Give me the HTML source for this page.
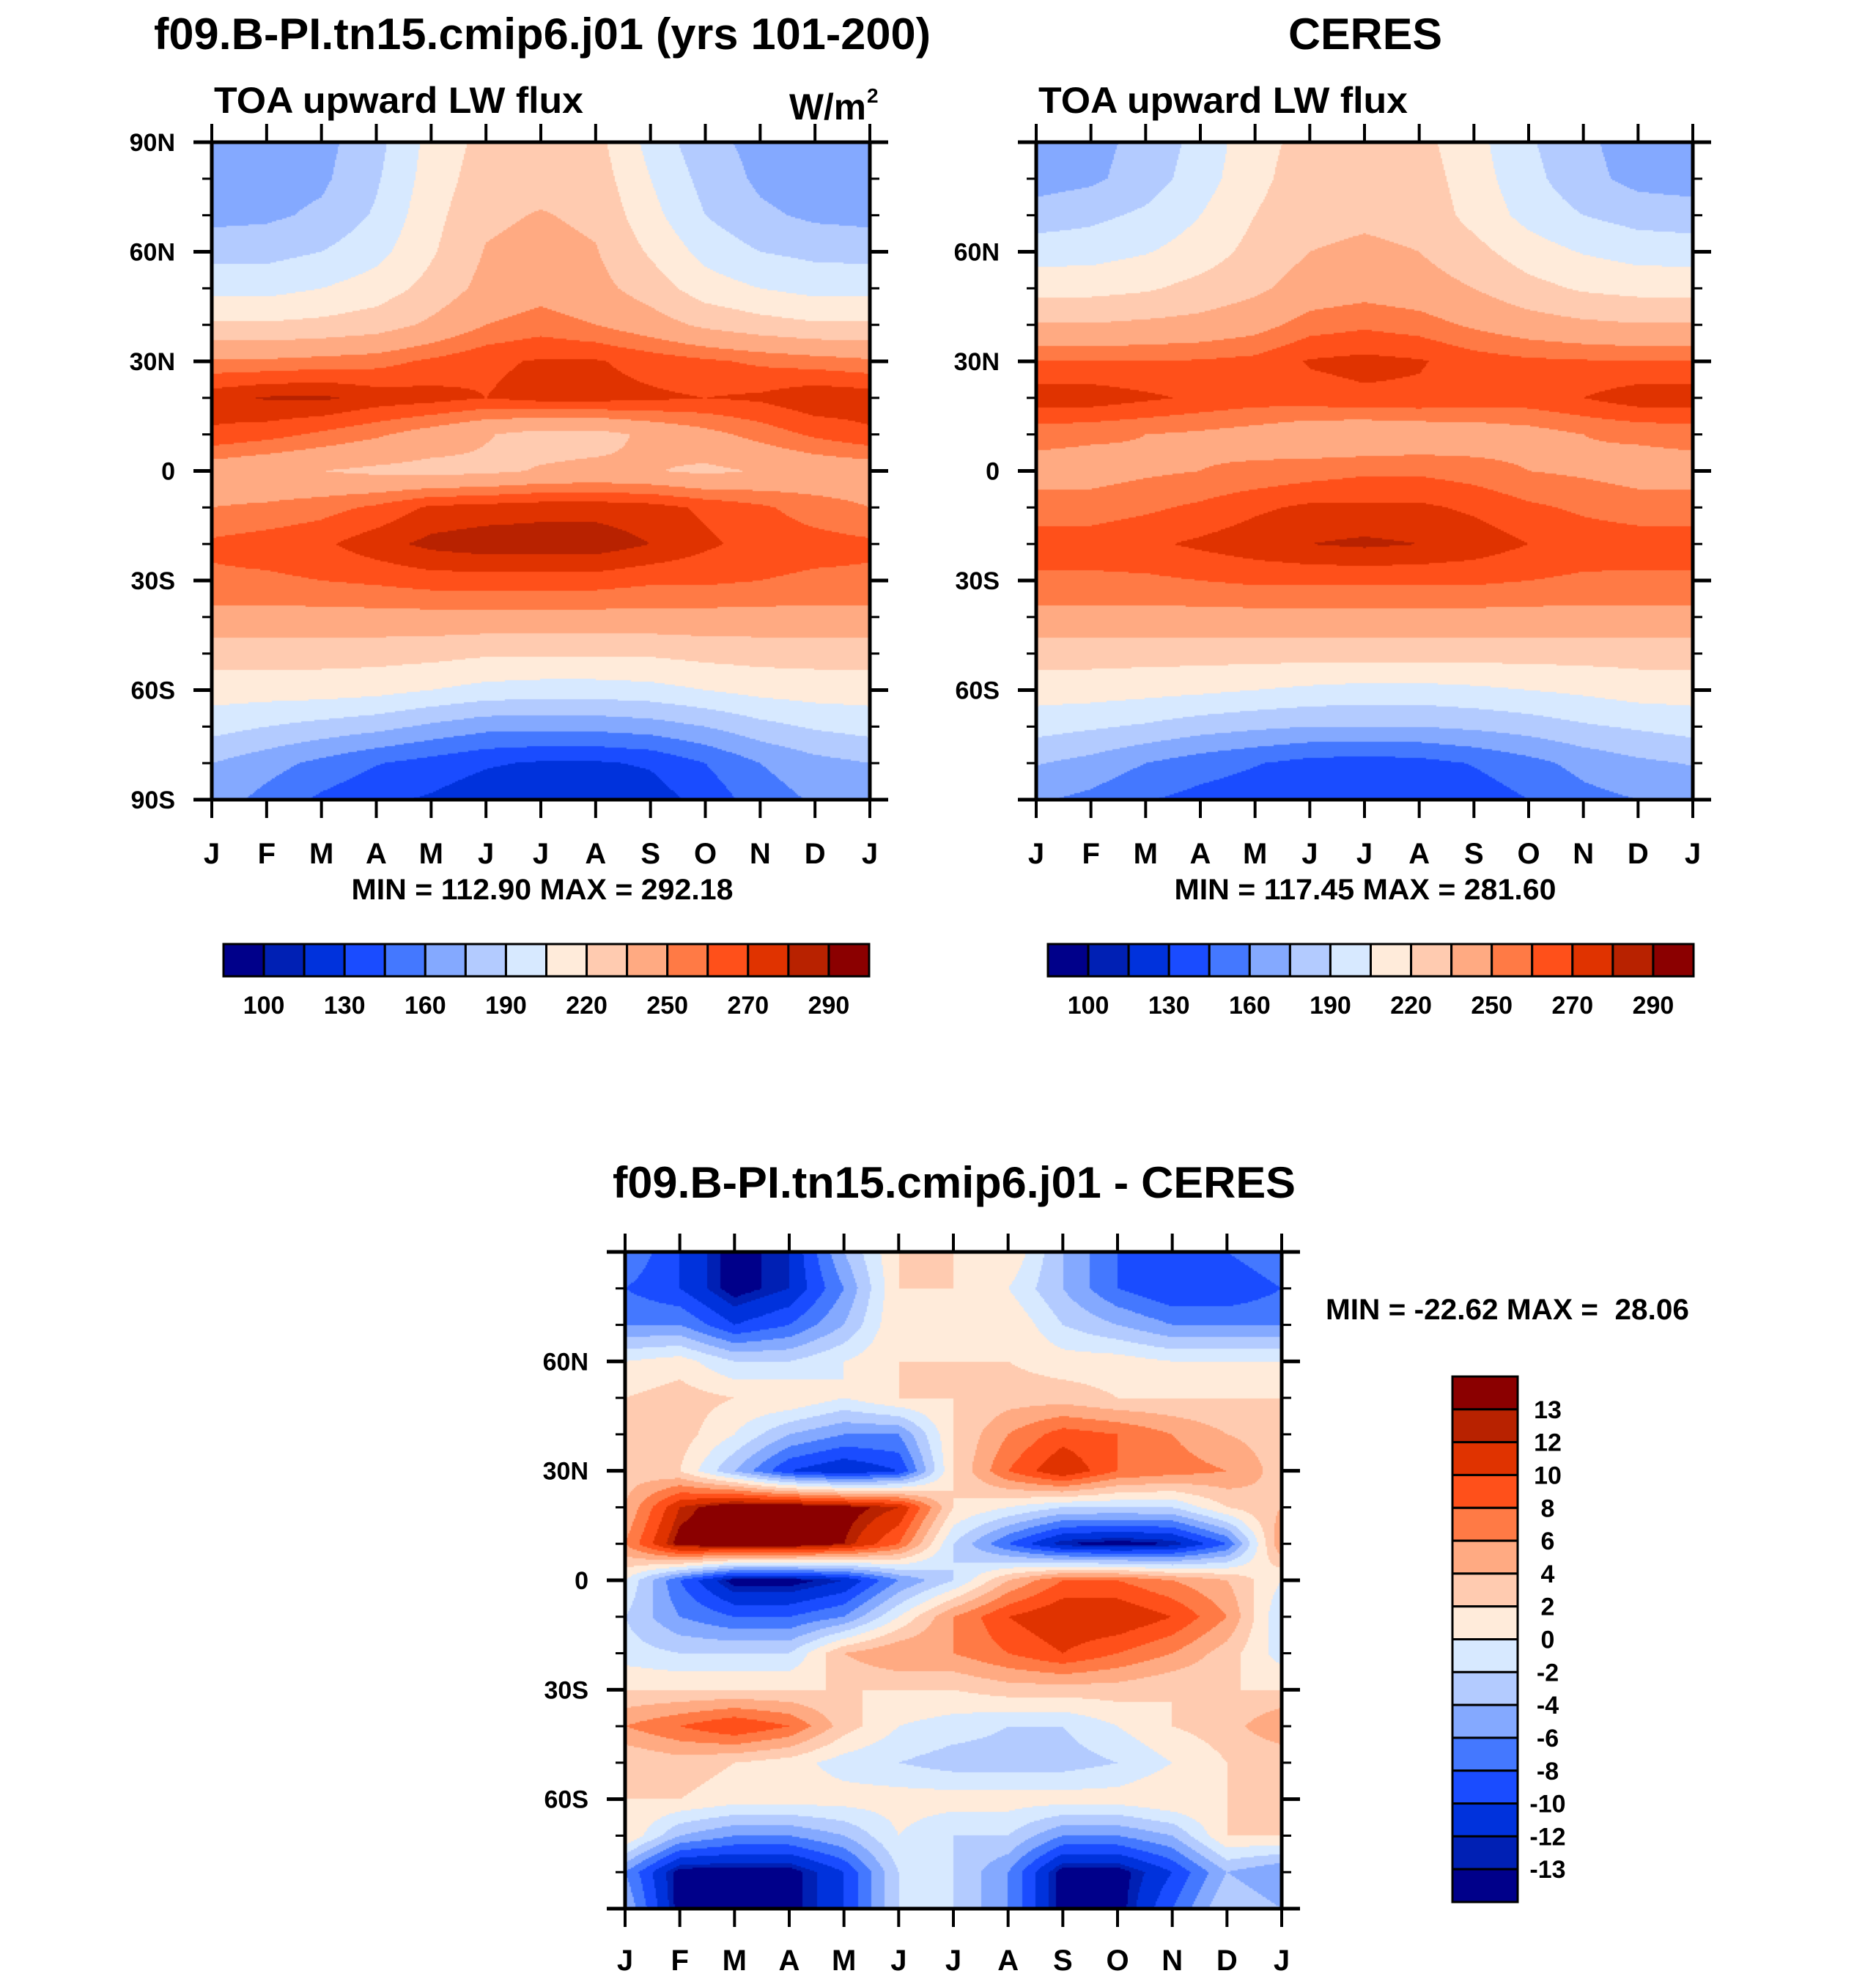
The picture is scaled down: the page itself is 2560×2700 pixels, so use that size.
<!DOCTYPE html>
<html><head><meta charset="utf-8">
<style>
html,body{margin:0;padding:0;background:#fff;}
#wrap{position:relative;width:2560px;height:2700px;overflow:hidden;background:#fff;}
canvas{position:absolute;}
svg{position:absolute;left:0;top:0;}
text{font-family:"Liberation Sans",sans-serif;font-weight:bold;fill:#000;}
</style></head>
<body>
<div id="wrap">
<canvas id="c1" style="left:289px;top:194px" width="898" height="897"></canvas>
<canvas id="c2" style="left:1414px;top:194px" width="896" height="897"></canvas>
<canvas id="c3" style="left:853px;top:1708px" width="896" height="896"></canvas>
<svg id="ov" width="2560" height="2700">
<text x="740" y="67" font-size="60" text-anchor="middle" textLength="1060" lengthAdjust="spacingAndGlyphs">f09.B-PI.tn15.cmip6.j01 (yrs 101-200)</text>
<text x="1863" y="67" font-size="60" text-anchor="middle" textLength="210" lengthAdjust="spacingAndGlyphs">CERES</text>
<text x="292" y="154" font-size="50" textLength="504" lengthAdjust="spacingAndGlyphs">TOA upward LW flux</text>
<text x="1077" y="163" font-size="50" textLength="105" lengthAdjust="spacingAndGlyphs">W/m</text>
<text x="1183" y="140" font-size="28">2</text>
<text x="1417" y="154" font-size="50" textLength="504" lengthAdjust="spacingAndGlyphs">TOA upward LW flux</text>
<text x="740" y="1227" font-size="40" text-anchor="middle" textLength="521" lengthAdjust="spacingAndGlyphs">MIN = 112.90 MAX = 292.18</text>
<text x="1863" y="1227" font-size="40" text-anchor="middle" textLength="521" lengthAdjust="spacingAndGlyphs">MIN = 117.45 MAX = 281.60</text>
<text x="1302" y="1634" font-size="60" text-anchor="middle" textLength="932" lengthAdjust="spacingAndGlyphs">f09.B-PI.tn15.cmip6.j01 - CERES</text>
<text x="1809" y="1800" font-size="40" textLength="496" lengthAdjust="spacingAndGlyphs" xml:space="preserve">MIN = -22.62 MAX =  28.06</text>
</svg>
</div>
<script>
const months = ["J","F","M","A","M","J","J","A","S","O","N","D","J"];
const lats = [90,80,70,60,50,40,30,20,10,0,-10,-20,-30,-40,-50,-60,-70,-80,-90];
const colors = ["#00008a","#0020b4","#0032dc","#1a4cff","#4478ff","#84a9ff","#b3cbff","#d7e9ff","#ffebda","#ffcbb0","#ffaa82","#ff7a45","#ff501a","#e03300","#b82200","#8b0000"];
const fluxLevels = [100,115,130,145,160,175,190,205,220,235,250,260,270,280,290];
const fluxTickLabels = ["100","130","160","190","220","250","270","290"];
const diffLevels = [-13,-12,-10,-8,-6,-4,-2,0,2,4,6,8,10,12,13];
const diffTickLabels = ["-13","-12","-10","-8","-6","-4","-2","0","2","4","6","8","10","12","13"];
const modelFlux = [
[165,165,170,185,210,225,228,225,200,180,170,165,165],
[165,168,172,188,212,228,230,228,205,185,172,166,165],
[170,172,178,192,215,232,236,232,210,190,178,172,170],
[185,185,190,200,218,236,240,236,218,200,190,186,185],
[200,200,205,212,225,240,245,240,228,212,205,200,200],
[222,222,224,228,238,250,255,250,242,232,226,222,222],
[252,252,254,256,262,268,271,271,266,262,258,255,252],
[276,281,282,276,274,270,274,274,272,270,272,278,276],
[268,264,258,252,244,236,230,230,238,246,254,262,268],
[242,238,235,232,230,232,236,238,236,232,236,240,242],
[250,252,256,262,272,274,276,276,274,268,262,255,250],
[262,265,268,276,283,286,286,286,280,272,266,264,262],
[258,258,260,262,265,265,265,265,262,262,260,258,258],
[246,246,246,246,246,246,246,246,246,246,246,246,246],
[226,226,226,226,225,222,222,222,222,225,226,226,226],
[212,212,212,210,205,200,198,198,200,205,210,212,212],
[196,190,185,180,172,165,165,165,168,175,185,192,196],
[175,166,156,146,139,132,128,128,132,145,160,170,175],
[168,155,142,133,128,120,115,115,122,136,152,162,168]];
const ceresFlux = [
[165,170,180,195,215,225,228,225,210,192,178,168,165],
[168,172,182,198,216,228,230,228,212,195,180,170,168],
[182,186,193,205,220,230,232,230,215,200,190,184,182],
[198,199,204,212,225,235,238,235,225,212,204,199,198],
[215,215,218,225,232,242,245,242,235,225,218,215,215],
[236,236,238,240,245,255,258,255,248,242,238,236,236],
[260,260,260,261,263,271,273,271,265,262,261,260,260],
[276,276,272,268,265,266,268,268,266,266,270,276,276],
[254,252,250,248,245,240,238,240,242,245,250,252,254],
[245,245,248,250,252,255,258,258,255,250,248,245,245],
[255,255,258,262,268,272,272,272,268,262,258,255,255],
[265,265,268,272,276,280,282,280,276,270,266,265,265],
[258,258,258,260,262,262,262,262,262,260,258,258,258],
[246,246,246,246,246,246,246,246,246,246,246,246,246],
[226,226,226,226,226,226,226,226,226,226,226,226,226],
[212,212,210,208,205,202,200,200,202,205,208,212,212],
[196,192,188,182,178,175,175,175,178,182,188,192,196],
[176,170,160,152,146,140,138,140,146,155,165,172,176],
[162,156,146,140,136,132,130,132,136,145,155,160,162]];
const diffFlux = [
[-6,-10,-14,-12,-4,2,2,2,-4,-8,-10,-8,-6],
[-8,-10,-14,-12,-6,2,2,0,-4,-8,-10,-10,-8],
[-6,-6,-10,-8,-4,2,0,2,-2,-4,-6,-6,-6],
[0,1,-2,-2,0,2,2,2,1,1,0,0,0],
[2,3,2,2,0,2,2,3,3,2,2,2,2],
[3,3,0,-4,-6,-6,2,6,9,8,6,4,3],
[3,2,-4,-10,-12,-10,2,8,12,8,7,6,3],
[4,12,15,15,14,12,2,0,-2,-2,-2,2,4],
[6,14,15,15,13,8,-2,-8,-13,-14,-13,-8,6],
[0,-8,-14,-14,-12,-6,-2,4,8,8,6,4,0],
[-2,-6,-8,-8,-6,0,6,10,12,12,10,6,-2],
[-1,-2,-2,-2,4,6,6,8,10,8,6,3,-1],
[2,2,2,2,2,2,2,3,3,3,2,2,2],
[6,8,10,8,3,0,-1,-2,-2,0,2,3,6],
[2,3,2,1,-1,-2,-3,-3,-3,-2,0,2,2],
[2,2,1,1,1,1,1,1,1,1,2,2,2],
[2,-4,-6,-6,-4,0,-2,-2,-6,-6,-4,2,2],
[-6,-14,-14,-14,-10,-2,-2,-6,-14,-14,-10,-4,-6],
[-4,-14,-14,-14,-10,-2,-2,-6,-14,-14,-8,-2,-4]];

function sample(data, m, lat){
  const r = (lats[0]-lat)/10;
  const r0 = Math.min(Math.floor(r), lats.length-2), c0 = Math.min(Math.floor(m), months.length-2);
  const fr = r-r0, fc = m-c0;
  const a=data[r0][c0], b=data[r0][c0+1], c=data[r0+1][c0], d=data[r0+1][c0+1];
  return (a*(1-fc)+b*fc)*(1-fr)+(c*(1-fc)+d*fc)*fr;
}
function levelIndex(v, levels){let i=0;while(i<levels.length&&v>=levels[i])i++;return i;}
function fillPlot(id, data, levels){
  const cv=document.getElementById(id), ctx=cv.getContext('2d');
  const w=cv.width,h=cv.height,s=2;
  for(let py=0;py<h;py+=s){
    for(let px=0;px<w;px+=s){
      const m=(px+s/2)/w*12, lat=90-(py+s/2)/h*180;
      ctx.fillStyle=colors[levelIndex(sample(data,m,lat),levels)];
      ctx.fillRect(px,py,s,s);
    }
  }
}
fillPlot('c1', modelFlux, fluxLevels);
fillPlot('c2', ceresFlux, fluxLevels);
fillPlot('c3', diffFlux, diffLevels);

const NS="http://www.w3.org/2000/svg", ov=document.getElementById('ov');
function mk(tag, attrs, parent){const e=document.createElementNS(NS,tag);for(const k in attrs)e.setAttribute(k,attrs[k]);(parent||ov).appendChild(e);return e;}
function latLabel(l){return l===0?"0":Math.abs(l)+(l>0?"N":"S");}
function drawAxes(x0,y0,w,h,labelLats,monthY,name){
  const g=mk('g',{});
  
  
  mk('rect',{x:x0,y:y0,width:w,height:h,fill:'none',stroke:'#000','stroke-width':5},g);
  for(let l=90;l>=-90;l-=10){
    const y=y0+(90-l)/180*h, major=(l%30===0), len=major?25:13;
    mk('line',{x1:x0-len,y1:y,x2:x0,y2:y,stroke:'#000','stroke-width':major?5:3},g);
    mk('line',{x1:x0+w,y1:y,x2:x0+w+len,y2:y,stroke:'#000','stroke-width':major?5:3},g);
    if(major && labelLats.indexOf(l)>=0){
      const t=mk('text',{x:x0-50,y:y+12,'font-size':34,'text-anchor':'end'},g);
      
      
      t.textContent=latLabel(l);
    }
  }
  for(let i=0;i<months.length;i++){
    const x=x0+i/12*w;
    mk('line',{x1:x,y1:y0-25,x2:x,y2:y0,stroke:'#000','stroke-width':4},g);
    mk('line',{x1:x,y1:y0+h,x2:x,y2:y0+h+25,stroke:'#000','stroke-width':4},g);
    const t=mk('text',{x:x,y:monthY,'font-size':40,'text-anchor':'middle'},g);
    
    
    t.textContent=months[i];
  }
}
drawAxes(289,194,898,897,[90,60,30,0,-30,-60,-90],1178,'model');
drawAxes(1414,194,896,897,[60,30,0,-30,-60],1178,'ceres');
drawAxes(853,1708,896,896,[60,30,0,-30,-60],2688,'difference');

function hColorbar(x0,y0,w,h,name){
  const g=mk('g',{});
  
  
  const bw=w/colors.length;
  for(let i=0;i<colors.length;i++){
    const r=mk('rect',{x:x0+i*bw,y:y0,width:bw,height:h,fill:colors[i],stroke:'#000','stroke-width':3},g);
    
    
  }
  for(let k=0;k<fluxTickLabels.length;k++){
    const t=mk('text',{x:x0+(1+2*k)*bw,y:y0+h+51,'font-size':34,'text-anchor':'middle'},g);
    
    
    t.textContent=fluxTickLabels[k];
  }
}
hColorbar(305,1288,881,44,'model-colorbar');
hColorbar(1430,1288,881,44,'ceres-colorbar');

(function(){
  const x0=1982,y0=1878,w=89,h=717,n=colors.length,bh=h/n;
  const g=mk('g',{});
  
  
  for(let i=0;i<n;i++){
    const r=mk('rect',{x:x0,y:y0+i*bh,width:w,height:bh,fill:colors[n-1-i],stroke:'#000','stroke-width':3},g);
    
    
  }
  for(let k=0;k<diffTickLabels.length;k++){
    const lab=diffTickLabels[diffTickLabels.length-1-k];
    const t=mk('text',{x:2112,y:y0+(k+1)*bh+12,'font-size':34,'text-anchor':'middle'},g);
    
    
    t.textContent=lab;
  }
})();
</script>
</body></html>
